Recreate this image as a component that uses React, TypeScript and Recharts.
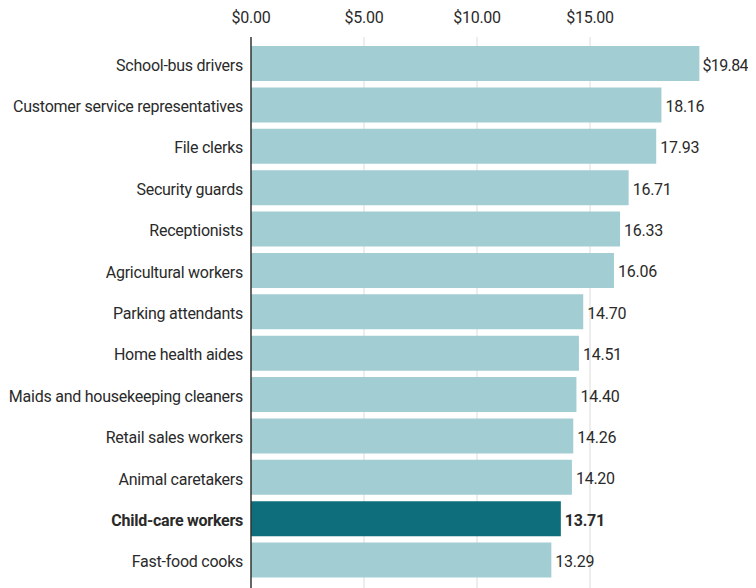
import { Bar, BarChart, CartesianGrid, Cell, LabelList, ReferenceLine, XAxis, YAxis } from 'recharts';

const occupations = [
  'School-bus drivers',
  'Customer service representatives',
  'File clerks',
  'Security guards',
  'Receptionists',
  'Agricultural workers',
  'Parking attendants',
  'Home health aides',
  'Maids and housekeeping cleaners',
  'Retail sales workers',
  'Animal caretakers',
  'Child-care workers',
  'Fast-food cooks',
];

const hourlyWage = [19.84, 18.16, 17.93, 16.71, 16.33, 16.06, 14.7, 14.51, 14.4, 14.26, 14.2, 13.71, 13.29];

const wageTicks = [0, 5, 10, 15];
const wageMax = 20;
const highlight = 'Child-care workers';

const data = occupations.map((name, i) => ({ name, wage: hourlyWage[i] }));

const FONT = 'Roboto, "Liberation Sans", sans-serif';
const LIGHT = '#a2cdd3';
const DARK = '#0f6e7b';
const TEXT = '#2a2a2a';
const SPACING = -0.25;

function OccupationTick(props: any) {
  const { x, y, payload } = props;
  const bold = payload.value === highlight;
  return (
    <text
      x={x}
      y={y}
      dy={7}
      textAnchor="end"
      fontFamily={FONT}
      fontSize={16}
      letterSpacing={SPACING}
      fontWeight={bold ? 700 : 400}
      fill={TEXT}
    >
      {payload.value}
    </text>
  );
}

function WageLabel(props: any) {
  const { x, y, width, height, value, index } = props;
  const bold = occupations[index] === highlight;
  const first = index === 0;
  const text = first ? `$${Number(value).toFixed(2)}` : Number(value).toFixed(2);
  return (
    <text
      x={x + width + (first ? 3 : 4)}
      y={y + height / 2}
      dy={7}
      fontFamily={FONT}
      fontSize={16}
      letterSpacing={first ? -0.6 : SPACING}
      fontWeight={bold ? 700 : 400}
      fill={TEXT}
    >
      {text}
    </text>
  );
}

function MoneyTick(props: any) {
  const { x, y, payload } = props;
  return (
    <text x={x} y={y} dy={-6} textAnchor="middle" fontFamily={FONT} fontSize={16} letterSpacing={SPACING} fill={TEXT}>
      {`$${Number(payload.value).toFixed(2)}`}
    </text>
  );
}

export default function App() {
  return (
    <div style={{ width: 740, height: 580, overflow: 'hidden' }}>
      <BarChart
        width={740}
        height={583}
        data={data}
        layout="vertical"
        margin={{ top: 0, right: 45, left: 0, bottom: 0 }}
        style={{ fontFamily: FONT }}
      >
        <CartesianGrid
          horizontal={false}
          stroke="#dcdcdc"
          verticalCoordinatesGenerator={({ offset }: any) =>
            wageTicks.slice(1).map((t) => offset.left + (offset.width * t) / wageMax)
          }
        />
        <XAxis
          type="number"
          orientation="top"
          domain={[0, wageMax]}
          ticks={wageTicks}
          axisLine={false}
          tickLine={false}
          height={29}
          tick={<MoneyTick />}
          interval={0}
        />
        <YAxis
          type="category"
          dataKey="name"
          width={243}
          axisLine={false}
          tickLine={false}
          padding={{ top: 6, bottom: 10 }}
          tick={<OccupationTick />}
          interval={0}
        />
        <Bar dataKey="wage" barSize={35} isAnimationActive={false}>
          {data.map((d) => (
            <Cell key={d.name} fill={d.name === highlight ? DARK : LIGHT} />
          ))}
          <LabelList dataKey="wage" content={<WageLabel />} />
        </Bar>
        <ReferenceLine x={0} stroke="#333" strokeWidth={1.5} />
      </BarChart>
    </div>
  );
}
